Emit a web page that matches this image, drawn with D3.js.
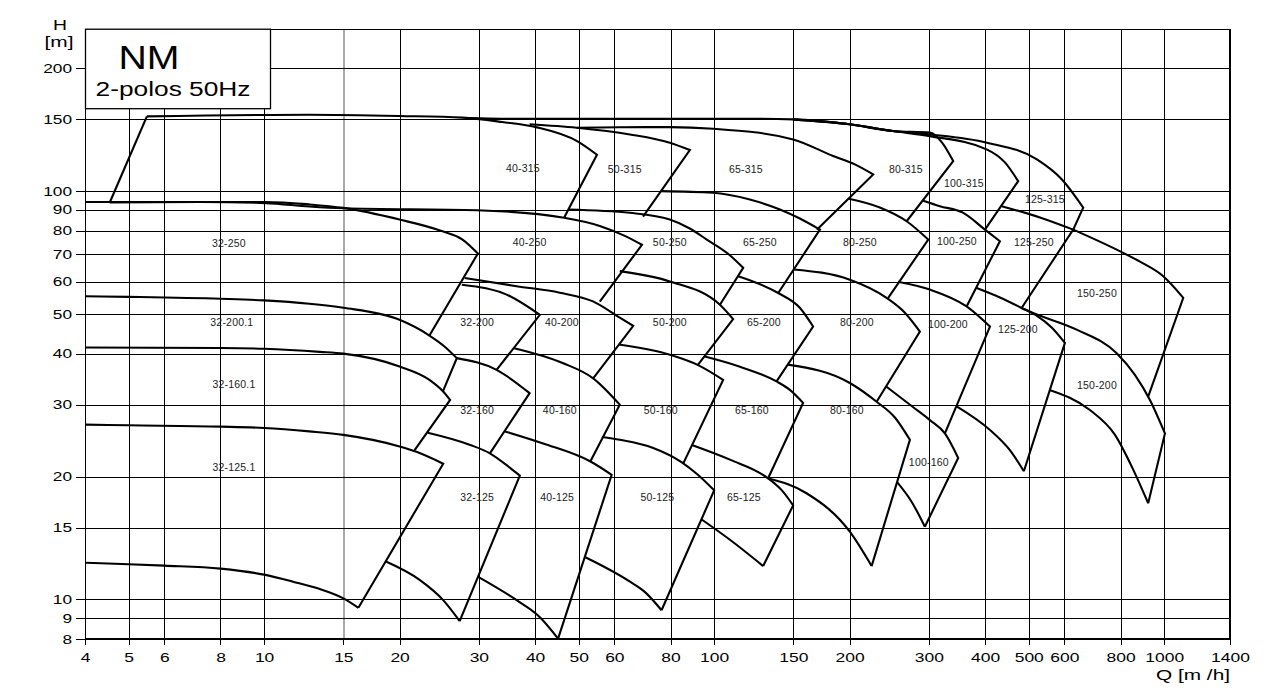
<!DOCTYPE html>
<html><head><meta charset="utf-8">
<script src="https://cdn.jsdelivr.net/npm/d3@7"></script>
<style>
body{margin:0;background:#fff;}
svg{display:block;font-family:"Liberation Sans",Arial,Helvetica,sans-serif;}
</style></head><body>
<svg id="chart" width="1268" height="695"></svg>
<script>
// ---------- axes ----------
const xTicks=[4,5,6,8,10,15,20,30,40,50,60,80,100,150,200,300,400,500,600,800,1000,1400];
const yTicks=[8,9,10,15,20,30,40,50,60,70,80,90,100,150,200];
const xDomain=[4,1400], yDomain=[8,250];

// ---------- pump ranges (Q m3/h, H m) ----------
const models=["40-315","50-315","65-315","80-315","100-315","125-315",
"32-250","40-250","50-250","65-250","80-250","100-250","125-250","150-250",
"32-200.1","32-200","40-200","50-200","65-200","80-200","100-200","125-200","150-200",
"32-160.1","32-160","40-160","50-160","65-160","80-160","100-160",
"32-125.1","32-125","40-125","50-125","65-125"];
const labelQ=[37.6,63.3,117.6,266.7,358.8,543.1,
8.35,38.9,79.7,126.4,210.8,346.2,513.4,708.9,
8.48,29.75,45.9,79.7,129,207.6,330.6,473.1,708.9,
8.57,29.75,45.4,76.1,121.3,197.2,299.9,
8.57,29.75,44.8,74.8,116.4];
const labelH=[113.7,113.1,113.1,113.1,104.4,95.4,
74.6,74.8,74.8,74.8,74.8,75.3,74.8,56.1,
47.6,47.6,47.6,47.6,47.6,47.6,47.1,46.0,33.4,
33.6,29.1,29.1,29.1,29.1,29.0,21.7,
21.1,17.8,17.8,17.8,17.8];
// maximum-impeller curve of each range
const topCurves=[
[[5.49,152.5],[12.6,153.9],[20,152.8],[27.6,151.4],[33.8,147.7],[40.4,143.3],[49.6,132.6],[54.9,122.8]],
[[38.9,145.8],[49.5,143.0],[65.0,137.7],[79.7,131.4],[88.3,126.1]],
[[49.5,143.0],[61.7,143.4],[79.7,143.5],[99.5,142.2],[149.8,133.9],[183.8,121.9],[205.4,116.3],[225.6,109.9]],
[[149.6,149.9],[199.8,145.8],[249.5,140.4],[301.5,139.1],[320.6,131.7],[339.7,118.5]],
[[149.6,149.9],[199.8,145.8],[249.5,140.4],[301.5,136.4],[403.0,126.6],[442.6,117.6],[473.7,105.8]],
[[28.7,151.0],[33.7,150.5],[61.7,150.5],[118.2,150.5],[149.6,149.9],[199.8,145.8],[249.5,140.4],[301.5,137.7],[403.6,131.4],[521.3,119.6],[592.5,106.8],[660.7,91.1]],
[[4,94.1],[10.1,94.1],[12.6,92.8],[15,91.0],[20,85.2],[24.6,80.1],[27.6,76.1],[29.85,70.35]],
[[4.54,93.8],[7.2,94.1],[10.1,93.5],[12.6,91.7],[15,90.8],[29.7,89.8],[46.4,86.1],[55.7,82.2],[63.3,77.7],[69.1,73.9]],
[[47.4,90.2],[65.0,88.5],[79.7,85.2],[88.3,81.0],[96.3,76.1],[107.2,70.35],[116.0,64.9]],
[[76.2,100],[99.3,99.1],[120.0,95.4],[140.0,90.2],[155.0,85.7],[171.8,80.5]],
[[199.3,95.8],[233.4,91.2],[267.7,84.4],[299.0,76.1]],
[[290.2,94.9],[317.3,91.9],[357.0,88.6],[399.6,80.5],[431.4,75.4]],
[[435.2,91.9],[529.4,86.2],[627.7,80.5]],
[[627.7,80.5],[784.1,71.9],[883.1,67.2],[994.9,61.9],[1102.4,54.8]],
[[4,55.3],[5,55.1],[8,54.5],[10,54.0],[12.6,53.0],[15,51.8],[20,48.4],[23.3,44.3],[25.2,41.6],[26.8,39.0]],
[[27.5,59.0],[35.2,55.3],[41.0,49.8]],
[[27.9,61.3],[36.4,58.5],[45.4,56.4],[53.8,53.7],[61.7,49.0],[66.1,46.8]],
[[61.7,63.7],[79.7,60.1],[103.0,52.7],[110.2,48.6]],
[[113.1,61.9],[138.8,56.3],[155.0,51.8],[165.9,46.6]],
[[150.1,64.3],[200.2,60.7],[241.6,54.8],[265.3,50.4],[286.5,45.3]],
[[256.0,60.0],[301.5,57.4],[363.8,52.2],[410.0,46.6]],
[[382.9,57.9],[431.4,54.9],[482.0,51.75],[520.5,49.55],[562.9,46.3],[601.6,42.5]],
[[482.0,51.75],[516.1,50.1],[638.8,45.8],[784.1,40.1],[860.7,35.5],[929.4,30.8],[1003.7,25.5]],
[[4,41.4],[8,41.3],[10,41.1],[13.3,40.4],[15,40.0],[20,37.2],[23.3,34.5],[25.0,32.3],[25.9,30.8]],
[[26.8,39.0],[32.85,36.5],[38.9,32.0]],
[[35.75,41.3],[46.2,37.9],[53.85,34.8],[61.7,30.0]],
[[61.4,42.1],[79.7,39.75],[92.1,37.5],[104.7,34.5]],
[[94.9,39.4],[114.1,37.15],[137.6,34.2],[147.3,32.6],[157.6,30.3]],
[[145.7,37.6],[200.2,33.9],[229.6,30.5],[252.1,27.9],[272.2,24.6]],
[[241.4,33.2],[276.5,29.6],[301.5,27.5],[325.6,25.5],[348.5,22.2]],
[[4,26.8],[5,26.7],[8,26.5],[10,26.3],[12.6,25.8],[15,25.3],[20,23.7],[21.8,23.0],[25.0,21.5]],
[[23.1,25.6],[28.7,23.9],[31.75,22.8],[35.2,21.0],[37.0,20.1]],
[[34.3,25.8],[41.7,24.1],[53.0,21.8],[59.2,20.2]],
[[56.3,25.0],[61.7,24.6],[73.2,23.5],[84.6,21.7],[92.0,20.2],[100,18.5]],
[[89.2,23.9],[108.4,22.0],[131.8,19.8],[141.4,18.5],[149.8,17.0]]
];
// lower end of the right-hand limit line of each range
const edgeEnds=[[46.4,86.1],[69.5,86.6],[169.1,80.5],[267.7,84.4],[399.6,80.5],[627.7,80.5],
[23.3,44.3],[55.7,53.6],[103.0,52.7],[138.8,56.3],[243.6,54.8],[363.8,52.2],[482.0,51.75],[921.2,31.4],
[24.95,32.3],[32.85,36.5],[53.85,34.8],[92.1,37.6],[137.6,34.2],[229.6,30.5],[325.6,25.5],[487.7,20.6],[921.2,17.2],
[21.6,23.2],[31.75,22.8],[53.0,21.7],[85.5,21.6],[131.8,19.8],[223.8,12.07],[293.9,15.07],
[16.2,9.54],[27.2,8.85],[45.0,8.02],[76.4,9.41],[128.5,12.07]];
// minimum-impeller curves of the lowest ranges
const lowerCurves=[
[[4,12.3],[5,12.2],[6,12.1],[8,11.9],[10,11.5],[11.6,11.05],[13.3,10.6],[15,10.06],[16.2,9.54]],
[[18.6,12.4],[22.2,11.15],[25.0,9.96],[27.2,8.85]],
[[29.9,11.36],[36.4,9.96],[41.0,9.05],[45.0,8.02]],
[[51.6,12.7],[65.0,11.05],[70.2,10.42],[76.4,9.41]],
[[93.8,15.7],[108.4,14.0],[128.5,12.07]],
[[131.8,19.8],[160.4,18.2],[200.2,14.65],[223.8,12.07]],
[[254.7,19.4],[275,17.3],[293.9,15.07]],
[[345.7,29.7],[410.0,26.0],[454.0,23.2],[487.7,20.6]],
[[556.1,32.6],[683.8,29.1],[777.3,25.3],[853.2,20.8],[921.2,17.2]]
];
const leftEdges=[[[4.54,93.8],[5.49,152.5]]];

// ---------- drawing ----------
const M={l:85,r:1230,t:28.7,b:639};
const svg=d3.select("#chart");
const x=d3.scaleLog().domain(xDomain).range([M.l,M.r]);
const y=d3.scaleLog().domain(yDomain).range([M.b,M.t]);

// grid
const gX=svg.append("g").attr("transform",`translate(0,${M.b})`).attr("shape-rendering","crispEdges")
  .call(d3.axisBottom(x).tickValues(xTicks).tickSize(-(M.b-M.t)).tickFormat(""));
gX.select(".domain").remove();
gX.selectAll(".tick line").attr("stroke",d=>d===15?"#aaa":"#000").attr("stroke-width",d=>d===15?1.5:1);
const gY=svg.append("g").attr("transform",`translate(${M.l},0)`).attr("shape-rendering","crispEdges")
  .call(d3.axisLeft(y).tickValues(yTicks).tickSize(-(M.r-M.l)).tickFormat(""));
gY.select(".domain").remove();
gY.selectAll(".tick line").attr("stroke","#000").attr("stroke-width",1);

// frame
svg.append("rect").attr("x",M.l+0.5).attr("y",M.t+0.5).attr("width",M.r-M.l-1).attr("height",M.b-M.t)
  .attr("fill","none").attr("stroke","#000").attr("stroke-width",1).attr("shape-rendering","crispEdges");
svg.append("line").attr("x1",M.l).attr("x2",M.r+0.5).attr("y1",M.b).attr("y2",M.b)
  .attr("stroke","#000").attr("stroke-width",2.2);

// axis ticks + labels
const aX=svg.append("g").attr("transform",`translate(0,${M.b})`)
  .call(d3.axisBottom(x).tickValues(xTicks).tickSize(6).tickPadding(7.6).tickFormat(d3.format("d")));
aX.select(".domain").remove();
aX.attr("font-family",null).attr("font-size",13.5);
aX.selectAll(".tick line").attr("shape-rendering","crispEdges");
aX.selectAll(".tick text").attr("fill","#000").attr("textLength",d=>String(d).length*9.7).attr("lengthAdjust","spacingAndGlyphs");
const aY=svg.append("g").attr("transform",`translate(${M.l},0)`)
  .call(d3.axisLeft(y).tickValues(yTicks).tickSize(9).tickPadding(4).tickFormat(d3.format("d")));
aY.select(".domain").remove();
aY.attr("font-family",null).attr("font-size",12.5);
aY.selectAll(".tick line").attr("shape-rendering","crispEdges");
aY.selectAll(".tick text").attr("fill","#000").attr("textLength",d=>String(d).length*9.6).attr("lengthAdjust","spacingAndGlyphs");

// axis titles
svg.append("text").attr("x",60).attr("y",29.5).attr("text-anchor","middle").attr("font-size",14.5)
  .attr("textLength",14).attr("lengthAdjust","spacingAndGlyphs").text("H");
svg.append("text").attr("x",59).attr("y",46.5).attr("text-anchor","middle").attr("font-size",14.5)
  .attr("textLength",29).attr("lengthAdjust","spacingAndGlyphs").text("[m]");
svg.append("text").attr("x",1230).attr("y",680).attr("text-anchor","end").attr("font-size",15)
  .attr("textLength",74).attr("lengthAdjust","spacingAndGlyphs").text("Q [m /h]");

// legend box
svg.append("rect").attr("x",M.l+0.5).attr("y",M.t+0.5).attr("width",185).attr("height",79.5)
  .attr("fill","#fff").attr("stroke","#000").attr("stroke-width",1.3);
svg.append("text").attr("x",118.5).attr("y",69).attr("font-size",33)
  .attr("textLength",61).attr("lengthAdjust","spacingAndGlyphs").text("NM");
svg.append("text").attr("x",95.5).attr("y",96).attr("font-size",20)
  .attr("textLength",155).attr("lengthAdjust","spacingAndGlyphs").text("2-polos 50Hz");

// curves
const curveGen=d3.line().x(d=>x(d[0])).y(d=>y(d[1])).curve(d3.curveMonotoneX);
const straight=d3.line().x(d=>x(d[0])).y(d=>y(d[1]));
const gC=svg.append("g").attr("fill","none").attr("stroke","#000").attr("stroke-width",2.1)
  .attr("stroke-linejoin","miter").attr("stroke-linecap","butt");
topCurves.forEach((c,i)=>{
  const e=edgeEnds[i];
  gC.append("path").attr("d",curveGen(c)+"L"+x(e[0])+","+y(e[1]));
});
lowerCurves.forEach(c=>gC.append("path").attr("d",curveGen(c)));
leftEdges.forEach(c=>gC.append("path").attr("d",straight(c)));

// range labels
svg.append("g").selectAll("text").data(models).join("text")
  .attr("x",(d,i)=>x(labelQ[i])).attr("y",(d,i)=>y(labelH[i])).attr("dy","0.35em")
  .attr("text-anchor","middle").attr("font-size",10.5).attr("fill","#222").attr("letter-spacing",0.2)
  .text(d=>d);
</script>
</body></html>
